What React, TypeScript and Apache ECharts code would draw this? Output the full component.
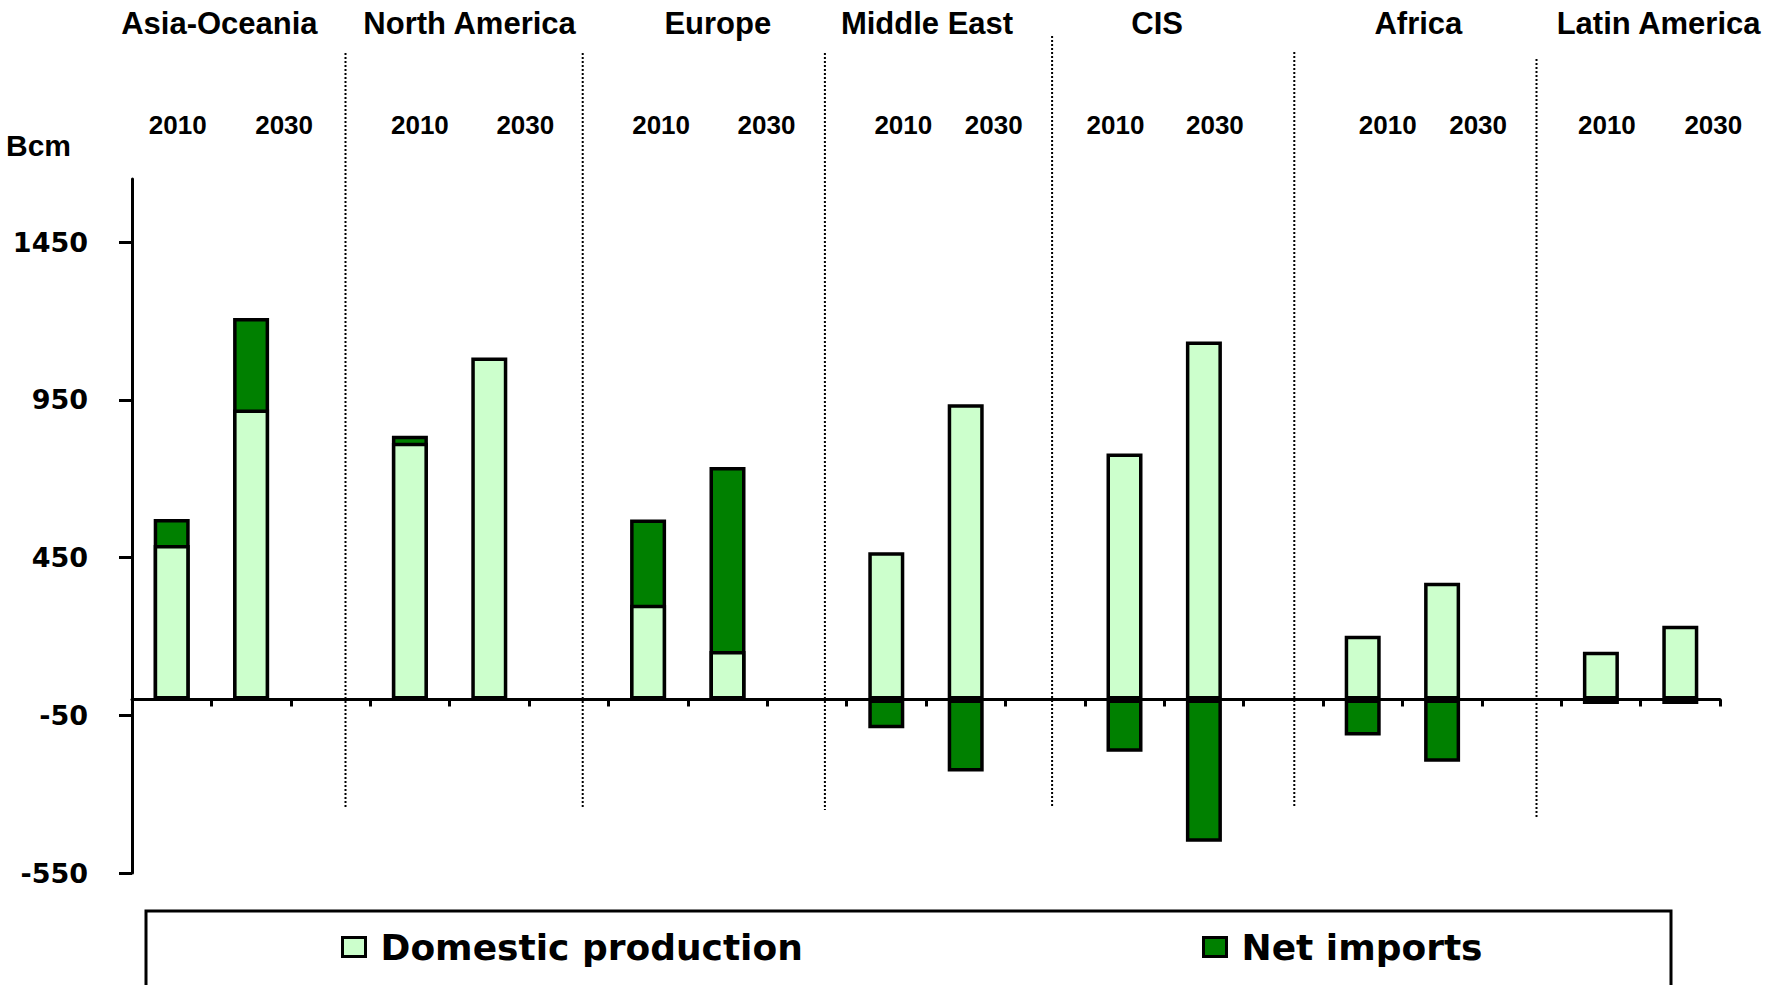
import React, { useEffect, useRef } from 'react';
import * as echarts from 'echarts';

// ---- data ----
const regions = ['Asia-Oceania', 'North America', 'Europe', 'Middle East', 'CIS', 'Africa', 'Latin America'];
const years = ['2010', '2030'];
// per region: [2010, 2030]
const domesticProduction = [490, 919, 814, 1084, 300, 154, 467, 936, 780, 1135, 202, 370, 151, 234];
const netImports = [82, 290, 22, 0, 271, 583, -91, -228, -166, -451, -114, -197, -14, -14];
const yTickValues = [-550, -50, 450, 950, 1450];
const yMin = -550;
const yMax = 1650;
const yInterval = 500;
const unitLabel = 'Bcm';
const seriesNames = ['Domestic production', 'Net imports'];

// ---- layout (pixels, not data) ----
const titleOffsets = [8, 20, 30, 1, -7, 16, 18];
const yearOffsets = [[6, 33], [10, 36], [13, 39], [17, 28], [-9, 11], [25, 36], [6, 33]];
const separatorOffsets = [15, 14, 18, 7, 11, 15];
const separatorTops = [53, 53, 53, 36, 52, 59];
const separatorBottoms = [808, 808, 810, 808, 808, 817];

// Net imports are drawn behind domestic production: a positive import bar spans
// from 0 to (domestic + imports), so the domestic bar drawn over it leaves the
// import segment visible on top with a single dividing line.
const categories: string[] = [];
const domData: (number | null)[] = [];
const netDrawData: (number | null)[] = [];
const gapNames: string[] = [];
regions.forEach((r, i) => {
  years.forEach((y, j) => {
    const k = i * 2 + j;
    categories.push(`${r} ${y}`);
    domData.push(domesticProduction[k]);
    const n = netImports[k];
    netDrawData.push(n === 0 ? null : n > 0 ? domesticProduction[k] + n : n);
  });
  if (i < regions.length - 1) {
    const g = `gap ${i}`;
    categories.push(g);
    gapNames.push(g);
    domData.push(null);
    netDrawData.push(null);
  }
});

const LIGHT = '#CCFFCC';
const DARK = '#008000';
const BORDER = 3.5;
const labelFont = '"Liberation Sans", Arial, sans-serif';
const wideFont = '"DejaVu Sans", Verdana, sans-serif';

export default function App() {
  const ref = useRef<HTMLDivElement>(null);
  useEffect(() => {
    if (!ref.current) return;
    const chart = echarts.init(ref.current, undefined, { renderer: 'svg' });
    const legendCommon = {
      padding: 0,
      top: 929,
      itemWidth: 23,
      itemHeight: 19,
      icon: 'rect',
      itemStyle: { borderColor: '#000', borderWidth: 3 },
      textStyle: {
        fontFamily: wideFont,
        fontWeight: 'bold',
        fontSize: 36,
        color: '#000',
        padding: [0, 0, 0, 10],
      },
    };
    chart.setOption({
      animation: false,
      backgroundColor: '#ffffff',
      grid: { left: 132, right: 59, top: 179, bottom: 112, containLabel: false },
      xAxis: {
        type: 'category',
        data: categories,
        axisLine: { show: true, onZero: true, lineStyle: { color: '#000', width: 3 } },
        axisTick: { show: true, interval: 0, length: 7, lineStyle: { color: '#000', width: 3 } },
        axisLabel: { show: false },
        splitLine: { show: false },
      },
      yAxis: {
        type: 'value',
        min: yMin,
        max: yMax,
        interval: yInterval,
        axisLine: { show: true, lineStyle: { color: '#000', width: 3 } },
        axisTick: { show: true, length: 13, customValues: yTickValues, lineStyle: { color: '#000', width: 3 } },
        axisLabel: {
          customValues: yTickValues,
          formatter: (v: number) => String(v),
          margin: 44,
          fontFamily: wideFont,
          fontWeight: 'bold',
          fontSize: 27,
          color: '#000',
        },
        splitLine: { show: false },
      },
      legend: [
        { ...legendCommon, data: [seriesNames[0]], left: 341 },
        { ...legendCommon, data: [seriesNames[1]], left: 1202 },
      ],
      series: [
        {
          name: seriesNames[1],
          type: 'bar',
          data: netDrawData,
          barWidth: 36,
          barGap: '-100%',
          z: 2,
          itemStyle: { color: DARK, borderColor: '#000', borderWidth: BORDER },
        },
        {
          name: seriesNames[0],
          type: 'bar',
          data: domData,
          barWidth: 36,
          barGap: '-100%',
          z: 3,
          itemStyle: { color: LIGHT, borderColor: '#000', borderWidth: BORDER },
        },
      ],
    });

    const px = (name: string) => chart.convertToPixel({ xAxisIndex: 0 }, name) as number;
    const graphics: any[] = [];
    regions.forEach((r, i) => {
      const x10 = px(`${r} ${years[0]}`);
      const x30 = px(`${r} ${years[1]}`);
      graphics.push({
        type: 'text',
        x: (x10 + x30) / 2 + titleOffsets[i],
        y: 23,
        style: {
          text: r,
          fill: '#000',
          fontFamily: labelFont,
          fontWeight: 'bold',
          fontSize: 31,
          align: 'center',
          verticalAlign: 'middle',
        },
      });
      [x10, x30].forEach((x, j) => {
        graphics.push({
          type: 'text',
          x: x + yearOffsets[i][j],
          y: 125,
          style: {
            text: years[j],
            fill: '#000',
            fontFamily: labelFont,
            fontWeight: 'bold',
            fontSize: 26,
            align: 'center',
            verticalAlign: 'middle',
          },
        });
      });
    });
    gapNames.forEach((g, i) => {
      const x = px(g) + separatorOffsets[i];
      graphics.push({
        type: 'line',
        shape: { x1: x, y1: separatorTops[i], x2: x, y2: separatorBottoms[i] },
        style: { stroke: '#000', lineWidth: 2, lineDash: [2, 2] },
        z: 1,
      });
    });
    graphics.push({
      type: 'text',
      x: 6,
      y: 145,
      style: {
        text: unitLabel,
        fill: '#000',
        fontFamily: labelFont,
        fontWeight: 'bold',
        fontSize: 30,
        align: 'left',
        verticalAlign: 'middle',
      },
    });
    graphics.push({
      type: 'rect',
      shape: { x: 146, y: 911, width: 1525, height: 80 },
      style: { fill: 'transparent', stroke: '#000', lineWidth: 3 },
      z: 0,
    });
    chart.setOption({ graphic: graphics });

    return () => chart.dispose();
  }, []);
  return (
    <div
      ref={ref}
      style={{ position: 'absolute', left: 0, top: 0, width: 1779, height: 985, background: '#fff' }}
    />
  );
}
